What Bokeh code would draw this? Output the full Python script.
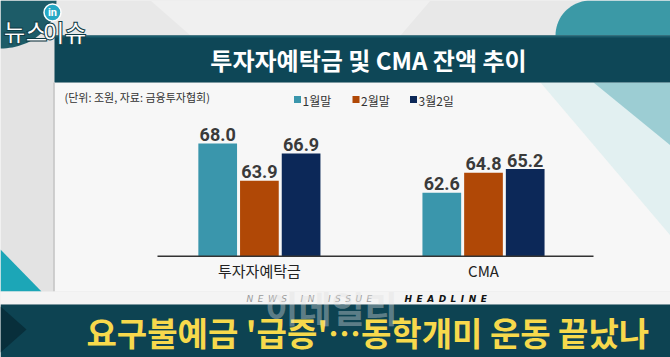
import numpy as np
from bokeh.plotting import figure
from bokeh.models import Range1d, ColumnDataSource
from bokeh.core.properties import value
from bokeh.embed import file_html
from bokeh.resources import INLINE

# ---------------- data ----------------
categories = ["투자자예탁금", "CMA"]
series_names = ["1월말", "2월말", "3월2일"]
jan_end = [68.0, 62.6]
feb_end = [63.9, 64.8]
mar_2nd = [66.9, 65.2]
series_colors = ["#3a96ac", "#b04806", "#0c2858"]
AXIS_FLOOR = 55.6

title_text = "투자자예탁금 및 CMA 잔액 추이"
subtitle_text = "(단위: 조원, 자료: 금융투자협회)"
headline_text = "요구불예금 '급증'…동학개미 운동 끝났나"
banner_left = "N\u2002E\u2002W\u2002S\u2003\u2002I\u2002N\u2003\u2002I\u2002S\u2002S\u2002U\u2002E"
banner_right = "H\u2002E\u2002A\u2002D\u2002L\u2002I\u2002N\u2002E"
watermark_text = "이데일리"
logo_words = ["뉴스", "이슈"]
logo_badge = "in"

# ---------------- layout ----------------
W, H = 670, 357
KR = value("Noto Sans CJK KR")
NUM = value("Roboto")

BASE_PX = 255.7
PX_PER_UNIT = 9.08
GROUP0_PX = 258.9
GROUP_PITCH_PX = 224.1
BAR_PITCH = 41.7 / GROUP_PITCH_PX
BAR_WIDTH = 38.7 / GROUP_PITCH_PX

p = figure(width=W, height=H, x_range=Range1d(0, W), y_range=Range1d(H, 0),
           min_border=0, toolbar_location=None, output_backend="svg",
           x_axis_type=None, y_axis_type=None,
           background_fill_color="#e3e3e3", border_fill_color="#e3e3e3")
p.grid.visible = False
p.outline_line_color = None
p.extra_x_ranges = {"grp": Range1d(-GROUP0_PX / GROUP_PITCH_PX, (W - GROUP0_PX) / GROUP_PITCH_PX)}
p.extra_y_ranges = {"val": Range1d(AXIS_FLOOR - (H - BASE_PX) / PX_PER_UNIT,
                                   AXIS_FLOOR + BASE_PX / PX_PER_UNIT)}


def box(l, r, t, b, color, alpha=1.0):
    p.quad(left=[l], right=[r], top=[t], bottom=[b], fill_color=color,
           line_color=None, fill_alpha=alpha)


def poly(xs, ys, color, alpha=1.0):
    p.patch(x=xs, y=ys, fill_color=color, line_color=None, fill_alpha=alpha)


# background top strip
box(0, W, 0, 35, "#e8e8e8")
poly([150, 430, 400, 190], [0, 0, 35, 35], "#f0f0f0")
# top-left dark teal corner
t = np.linspace(0, np.pi / 2, 30)
poly(list(np.r_[0, 56 * np.cos(t)]), list(np.r_[0, 48 * np.sin(t)]), "#1d5c68")
# top-right teal blob
t2 = np.linspace(np.pi, 1.5 * np.pi, 20)
bx = list(np.r_[W, 590 + 35 * np.cos(t2[::-1]), 555, W])
by = list(np.r_[0, 35 + 35 * np.sin(t2[::-1]), 35, 35])
poly(bx, by, "#3b99a6")

# panel
box(54, W, 82, 291, "#f7f7f7")
poly([540, W, W], [82, 82, 235], "#d9ecee", 0.7)
poly([593, W, W], [82, 82, 145], "#9ccdd3")
# title bar
box(54, W, 35, 82, "#0e4757")
box(54, W, 35, 37, "#1b5d6d")
# panel left shadow
p.segment(x0=[53.5], x1=[53.5], y0=[82], y1=[291], line_color="#c4c4c4", line_width=1.5)
# bottom-left teal triangle
poly([0, 0, 41], [249, 291, 291], "#1ca6b7")
# headline strip + bar
box(0, W, 291, 304, "#f4f4f4")
box(0, W, 304, H, "#0d4352")
poly([0, 26, 0], [306, 329, 352], "#082f3b")

# ---------------- bars ----------------
for i, (name, vals, col) in enumerate(zip(series_names, [jan_end, feb_end, mar_2nd], series_colors)):
    xs = [g + (i - 1) * BAR_PITCH for g in range(len(categories))]
    src = ColumnDataSource(dict(
        x=xs, top=vals,
        label=[f"{v:.1f}" for v in vals],
        ly=[v + 2.5 / PX_PER_UNIT for v in vals]))
    p.vbar(x="x", top="top", bottom=AXIS_FLOOR, width=BAR_WIDTH, source=src,
           fill_color=col, line_color=None, x_range_name="grp", y_range_name="val")
    p.text(x="x", y="ly", text="label", source=src, x_range_name="grp", y_range_name="val",
           text_align="center", text_baseline="bottom", text_font=NUM,
           text_font_size="18px", text_font_style="bold", text_color="#3a3a3a")

# baseline
p.segment(x0=[(157 - GROUP0_PX) / GROUP_PITCH_PX], x1=[(593 - GROUP0_PX) / GROUP_PITCH_PX],
          y0=[AXIS_FLOOR], y1=[AXIS_FLOOR], x_range_name="grp", y_range_name="val",
          line_color="#333333", line_width=1.5)
# category labels
p.text(x=list(range(len(categories))), y=[AXIS_FLOOR - 14 / PX_PER_UNIT] * len(categories),
       text=categories, x_range_name="grp", y_range_name="val",
       text_align="center", text_baseline="middle", text_font=KR,
       text_font_size="15px", text_color="#222222")

# legend
leg_x = [297, 355.5, 413]
p.scatter(x=leg_x, y=[99] * 3, marker="square", size=7, fill_color=series_colors, line_color=None)
p.text(x=[x + 5 for x in leg_x], y=[99.5] * 3, text=series_names, text_align="left",
       text_baseline="middle", text_font=KR, text_font_size="12px", text_color="#333333")

# titles
p.text(x=[368], y=[59], text=[title_text], text_align="center", text_baseline="middle",
       text_font=KR, text_font_size="24px", text_font_style="bold", text_color="white")
p.text(x=[64], y=[96.5], text=[subtitle_text], text_align="left", text_baseline="middle",
       text_font=KR, text_font_size="11px", text_color="#333333")

# banner
p.text(x=[246], y=[298], text=[banner_left], text_align="left", text_baseline="middle",
       text_font=value("DejaVu Sans"), text_font_size="9px", text_font_style="italic",
       text_color="#9a9a9a")
p.text(x=[404], y=[298], text=[banner_right], text_align="left", text_baseline="middle",
       text_font=value("DejaVu Sans"), text_font_size="9px", text_font_style="bold italic",
       text_color="#111111")
p.text(x=[86], y=[331], text=[headline_text], text_align="left", text_baseline="middle",
       text_font=KR, text_font_size="33px", text_font_style="bold", text_color="#f7d94c")
p.text(x=[331], y=[306], text=[watermark_text], text_align="center", text_baseline="middle",
       text_font=KR, text_font_size="36px", text_font_style="bold", text_color="#e0e0e0",
       text_alpha=0.4)

# logo
p.text(x=[3, 42], y=[30, 31], text=logo_words, text_align="left", text_baseline="middle",
       text_font=KR, text_font_size="24px", text_font_style="bold", text_color="white",
       text_outline_color="#0d3b45")
p.scatter(x=[52], y=[12], marker="circle", size=17, fill_color="#25a8c4",
          line_color="white", line_width=1.5)
p.text(x=[52], y=[12], text=[logo_badge], text_align="center", text_baseline="middle",
       text_font=value("Roboto"), text_font_size="11px", text_font_style="bold", text_color="white")

open("out.html", "w").write(file_html(p, INLINE))
